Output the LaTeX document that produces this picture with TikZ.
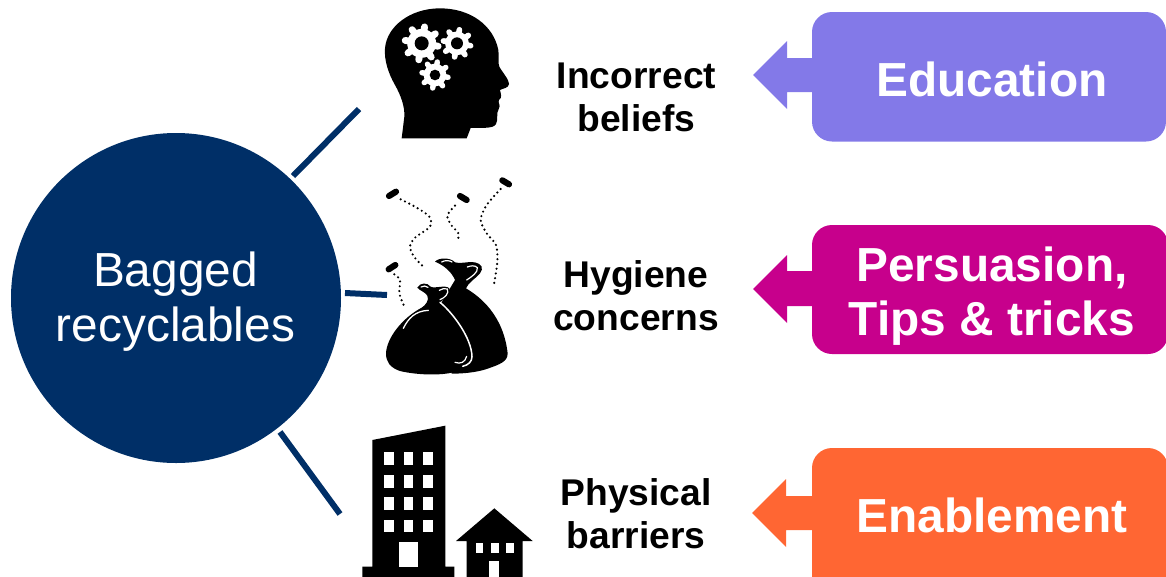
\documentclass[tikz,border=0pt]{standalone}
\usepackage{fontspec}
\setmainfont{Liberation Sans}
\definecolor{navy}{HTML}{002F67}
\definecolor{edu}{HTML}{8379E8}
\definecolor{per}{HTML}{C7008C}
\definecolor{ena}{HTML}{FF6633}
\tikzset{
  spoke/.style={draw=navy,line width=6pt},
  problem/.style={font=\bfseries\fontsize{37.2}{43}\selectfont,align=center,text=black,inner sep=0pt},
  remedy/.style={font=\bfseries\fontsize{47.8}{54}\selectfont,align=center,text=white,inner sep=0pt},
  hub/.style={circle,fill=navy,minimum size=330pt,inner sep=0pt},
  ink/.style={fill=black,draw=none},
  paper/.style={fill=white,draw=none},
  trail/.style={draw=black,line width=2.4pt,line cap=round,dash pattern=on 0pt off 4.8pt},
  flybody/.style={draw=black,line width=6.2pt,line cap=round},
  zoomed/.style={x=1pt/3,y=-1pt/3},
}
\newcommand{\cogwheel}[4]{% x y outer hole
  \fill[white] (#1,#2) circle ({0.76*#3});
  \foreach \a in {0,45,...,315}{
    \draw[white,line width={0.36*#3*1pt/3},line cap=round] (#1,#2) -- ++(\a+10:{0.88*#3});
  }
  \fill[black] (#1,#2) circle (#4);
}
\begin{document}
\begin{tikzpicture}[x=1pt,y=-1pt]
\useasboundingbox (0,0) rectangle (1166,576);
\clip (0,0) rectangle (1166,576);

% hub
\node[hub] (hubnode) at (176,298) {};
\node[font=\fontsize{47.8}{55}\selectfont,text=white,align=center,inner sep=0pt] (hubtext) at (175.5,301.5) {Bagged\\recyclables};

% spokes
\coordinate (s1a) at (293,176); \coordinate (s1b) at (359,109);
\coordinate (s2a) at (345,293); \coordinate (s2b) at (387,295);
\coordinate (s3a) at (280,432); \coordinate (s3b) at (340,514);
\path[spoke] (s1a) -- (s1b);
\path[spoke] (s2a) -- (s2b);
\path[spoke] (s3a) -- (s3b);

% head icon
\begin{scope}[shift={(360,0)},zoomed]
  \fill[ink] (125,415) -- (133,350)
    .. controls (135,320) and (122,285) .. (105,255)
    .. controls (85,220) and (72,180) .. (75,145)
    .. controls (80,80) and (150,25) .. (240,25)
    .. controls (330,25) and (400,75) .. (415,150)
    .. controls (418,170) and (413,190) .. (418,200)
    .. controls (428,218) and (448,240) .. (447,252)
    .. controls (446,265) and (428,265) .. (420,270)
    .. controls (422,282) and (428,292) .. (417,300)
    .. controls (412,308) and (424,315) .. (416,327)
    .. controls (408,340) and (415,360) .. (408,372)
    .. controls (400,388) and (360,382) .. (332,384)
    -- (320,415) -- cycle;
  \cogwheel{185}{130}{57}{21}
  \cogwheel{291}{130}{47}{18}
  \cogwheel{225}{225}{45}{16}
\end{scope}

% bags icon
\begin{scope}[shift={(340,165)},zoomed]
  \draw[trail] plot[smooth] coordinates {(182,103) (230,128) (268,155) (270,185) (225,218) (210,245) (222,275) (248,303)};
  \draw[trail] plot[smooth] coordinates {(345,122) (322,152) (335,182) (355,205) (353,232)};
  \draw[trail] plot[smooth] coordinates {(482,72) (440,120) (422,165) (440,205) (468,240) (472,290) (462,358)};
  \draw[trail] plot[smooth] coordinates {(163,328) (180,345) (178,385) (192,422)};
  \draw[flybody] (147,93) -- (168,80);
  \draw[flybody] (360,93) -- (380,105);
  \draw[flybody] (487,46) -- (507,58);
  \draw[flybody] (146,313) -- (166,300);
  % back bag
  \fill[ink] (285,290)
    .. controls (295,278) and (330,276) .. (345,292)
    .. controls (360,298) and (385,288) .. (405,292)
    .. controls (425,296) and (432,310) .. (420,325)
    .. controls (408,340) and (385,352) .. (378,370)
    .. controls (420,395) and (490,450) .. (503,565)
    .. controls (503,590) and (480,598) .. (440,612)
    .. controls (410,622) and (370,626) .. (335,626)
    -- (300,420) -- (345,345)
    .. controls (335,320) and (310,300) .. (285,290) -- cycle;
  % front bag
  \fill[ink] (232,368)
    .. controls (240,352) and (262,352) .. (272,365)
    .. controls (285,372) and (315,358) .. (328,370)
    .. controls (335,385) and (315,400) .. (300,412)
    .. controls (340,445) and (395,520) .. (396,575)
    .. controls (396,600) and (370,612) .. (340,622)
    .. controls (300,632) and (230,630) .. (180,618)
    .. controls (150,608) and (138,590) .. (138,565)
    .. controls (140,520) and (185,460) .. (245,428)
    .. controls (258,420) and (268,405) .. (262,392)
    .. controls (255,380) and (240,378) .. (232,368) -- cycle;
  \draw[white,line width=1.5pt,line cap=round] (300,412)
    .. controls (340,445) and (395,520) .. (396,575)
    .. controls (396,590) and (385,600) .. (368,604);
  \draw[white,line width=1.2pt,line cap=round] (345,592) .. controls (362,598) and (375,592) .. (380,574);
  \draw[white,line width=1.3pt,line cap=round] (190,490) .. controls (205,460) and (225,438) .. (265,436);
  \draw[white,line width=1.2pt,line cap=round] (300,404) .. controls (315,398) and (328,385) .. (322,372) .. controls (315,368) and (305,372) .. (298,376);
  \draw[white,line width=1.2pt,line cap=round] (305,291) .. controls (315,285) and (328,286) .. (336,291);
  \draw[white,line width=1.2pt,line cap=round] (380,345) .. controls (395,335) and (415,322) .. (412,308) .. controls (405,300) and (392,302) .. (382,306);
  \draw[white,line width=1.2pt,line cap=round] (243,366) .. controls (250,362) and (258,362) .. (264,367);
\end{scope}

% buildings icon
\begin{scope}[shift={(340,415)},zoomed]
  \fill[ink] (97,75) -- (316,32) -- (316,455) -- (343,455) -- (343,490) -- (67,490) -- (67,455) -- (97,455) -- cycle;
  \foreach \ya/\yb in {112/150,180/218,247/284,315/352}{
    \foreach \xa/\xb in {133/162,191/220,250/280}{
      \fill[paper] (\xa,\ya) rectangle (\xb,\yb);
    }
  }
  \fill[paper] (178,382) rectangle (235,456);
  \fill[ink] (348,378) -- (463,280) -- (578,378) -- (548,378) -- (548,490) -- (380,490) -- (380,378) -- cycle;
  \foreach \xa/\xb in {407/430,453/476,498/521}{
    \fill[paper] (\xa,383) rectangle (\xb,413);
  }
  \fill[paper] (448,437) rectangle (478,490);
\end{scope}

% problem labels
\node[problem] (l1) at (636.5,97) {Incorrect\\beliefs};
\node[problem] (l2) at (636,296) {Hygiene\\concerns};
\node[problem] (l3) at (636,514) {Physical\\barriers};

% remedy callouts
\fill[edu,rounded corners=20pt] (812,12) rectangle (1166,141.5);
\fill[edu] (820,58) -- (787,58) -- (787,41) -- (753,75) -- (787,109) -- (787,92) -- (820,92) -- cycle;
\fill[per,rounded corners=20pt] (812,225) rectangle (1168,354);
\fill[per] (820,271) -- (787,271) -- (787,255) -- (753,289) -- (787,323) -- (787,306) -- (820,306) -- cycle;
\fill[ena,rounded corners=20pt] (812,448) rectangle (1168,600);
\fill[ena] (820,496) -- (786,496) -- (786,479) -- (752,513) -- (786,547) -- (786,530) -- (820,530) -- cycle;

\node[remedy] (r1) at (992,79.5) {Education};
\node[remedy] (r2) at (992,296.5) {Persuasion,\\Tips \& tricks};
\node[remedy] (r3) at (992,515.5) {Enablement};
\end{tikzpicture}
\end{document}
